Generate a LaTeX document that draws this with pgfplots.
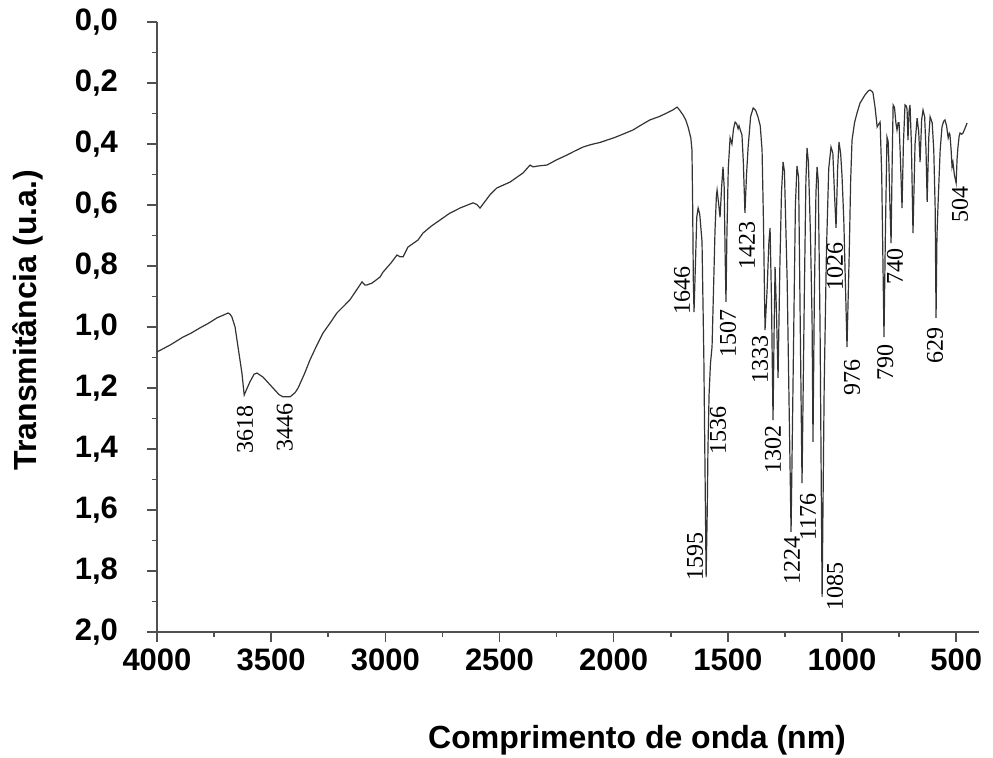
\documentclass[border=0pt]{standalone}
\usepackage{pgfplots}
\pgfplotsset{compat=1.18}
\usepackage{fontspec}
\setmainfont{Liberation Sans}
\newfontfamily\serifpeak{Liberation Serif}
\definecolor{spec}{HTML}{333333}
\definecolor{axc}{HTML}{505050}
\begin{document}
\begin{tikzpicture}
\useasboundingbox (-78.5pt,-63pt) rectangle (418pt,316pt);
\begin{axis}[
  at={(0,0)}, anchor=south west,
  scale only axis, width=411pt, height=305pt,
  xmin=400, xmax=4000, x dir=reverse,
  ymin=0, ymax=2, y dir=reverse,
  axis x line=bottom, axis y line=left,
  axis line style={-, draw=axc, line width=0.8pt},
  every tick/.style={draw=axc, line width=0.8pt},
  tick align=outside,
  major tick length=5pt, minor tick length=2.5pt,
  xtick={500,1000,...,4000}, minor x tick num=1,
  ytick={0,0.2,...,2.01}, minor y tick num=1,
  /pgf/number format/assume math mode=true,
  xticklabel style={font=\bfseries\fontsize{15.5}{16}\selectfont, /pgf/number format/set thousands separator={}},
  yticklabel style={xshift=-11pt, font=\bfseries\fontsize{15.5}{16}\selectfont, /pgf/number format/.cd, use comma, fixed, fixed zerofill, precision=1},
  xlabel={Comprimento de onda (nm)},
  ylabel={Transmitância (u.a.)},
  label style={font=\bfseries\fontsize{16}{18}\selectfont},
  xlabel style={at={(axis description cs:0.584,-0.177)}, anchor=center},
  ylabel style={at={(axis description cs:-0.157,0.511)}, anchor=center, rotate=0},
  clip=false,
]
\addplot[spec, line width=0.6pt] coordinates {
(4000,1.082) (3940,1.058) (3886,1.033) (3850,1.020) (3812,1.003) (3775,0.988) (3737,0.970) (3700,0.958) (3689,0.954) (3680,0.958) (3672,0.967) (3658,1.000)
(3645,1.066) (3628,1.151) (3618,1.223) (3605,1.200) (3593,1.180) (3575,1.155) (3562,1.151) (3536,1.164)
(3492,1.200) (3465,1.222) (3448,1.229) (3417,1.229) (3395,1.215) (3382,1.200) (3355,1.155) (3330,1.108) (3300,1.060)
(3273,1.020) (3240,0.985) (3212,0.954) (3180,0.930) (3155,0.911) (3102,0.852) (3090,0.862) (3080,0.862) (3058,0.856)
(3023,0.836) (3010,0.820) (2975,0.790) (2949,0.764) (2935,0.770) (2922,0.770) (2901,0.738) (2857,0.715) (2835,0.692)
(2800,0.670) (2760,0.649) (2720,0.628) (2673,0.610) (2616,0.593) (2600,0.598) (2585,0.610) (2572,0.597) (2540,0.565) (2511,0.544)
(2454,0.525) (2397,0.495) (2366,0.469) (2353,0.475) (2330,0.472) (2292,0.469) (2250,0.452) (2204,0.436) (2170,0.423) (2134,0.410)
(2100,0.402) (2060,0.395) (2000,0.380) (1960,0.368) (1915,0.354) (1880,0.338) (1841,0.321) (1800,0.310) (1766,0.298)
(1740,0.288) (1722,0.279) (1710,0.290) (1696,0.305) (1685,0.320) (1674,0.344) (1662,0.380) (1657,0.420)
(1654,0.600) (1651,0.850) (1648,0.951) (1642,0.800) (1636,0.640) (1630,0.610) (1623,0.630) (1613,0.720) (1605,1.100)
(1598,1.600) (1595,1.820) (1590,1.600) (1587,1.400) (1582,1.220) (1576,1.120) (1569,1.064) (1562,0.860) (1556,0.682)
(1550,0.570) (1547,0.551) (1541,0.590) (1534,0.640) (1527,0.540) (1521,0.475) (1516,0.540) (1512,0.750) (1508,0.918)
(1504,0.700) (1498,0.480) (1490,0.380) (1482,0.400) (1475,0.350) (1468,0.328) (1461,0.334) (1455,0.350) (1451,0.340)
(1445,0.355) (1438,0.370) (1432,0.460) (1425,0.626) (1418,0.500) (1411,0.410) (1400,0.310) (1389,0.282) (1378,0.290)
(1368,0.311) (1358,0.340) (1350,0.420) (1344,0.650) (1337,1.010) (1328,0.879) (1320,0.720) (1315,0.675) (1309,0.900)
(1302,1.305) (1297,1.000) (1293,0.803) (1287,0.950) (1280,1.167) (1272,0.800) (1265,0.560) (1258,0.459) (1252,0.490)
(1240,0.850) (1223,1.672) (1212,1.050) (1204,0.600) (1197,0.472) (1190,0.510) (1175,1.512) (1165,0.900) (1158,0.520)
(1153,0.413) (1147,0.460) (1138,0.700) (1131,0.977) (1127,1.377) (1121,0.900) (1114,0.560) (1109,0.475) (1104,0.520)
(1096,1.000) (1087,1.885) (1078,1.200) (1068,0.750) (1058,0.480) (1048,0.410) (1040,0.430) (1033,0.560) (1026,0.675)
(1019,0.480) (1013,0.393) (1006,0.430) (1000,0.502) (992,0.650) (978,1.066) (968,0.750) (962,0.520) (956,0.387)
(945,0.330) (934,0.298) (921,0.266) (900,0.240) (885,0.226) (877,0.223) (868,0.228) (864,0.233) (855,0.280)
(846,0.344) (839,0.335) (833,0.328) (826,0.500) (816,1.033) (810,0.700) (803,0.377) (798,0.390) (795,0.450)
(790,0.600) (785,0.725) (780,0.450) (776,0.272) (770,0.280) (764,0.330) (759,0.354) (754,0.330) (750,0.330)
(744,0.450) (737,0.610) (731,0.400) (724,0.272) (719,0.275) (715,0.285) (711,0.387) (706,0.290) (702,0.272)
(696,0.400) (689,0.692) (680,0.400) (671,0.315) (664,0.360) (658,0.459) (651,0.320) (645,0.289) (638,0.310)
(632,0.420) (627,0.590) (620,0.380) (614,0.311) (605,0.330) (598,0.420) (592,0.607) (588,0.970) (584,0.700)
(579,0.593) (570,0.420) (562,0.344) (555,0.326) (549,0.321) (542,0.340) (535,0.380) (530,0.365) (527,0.370)
(522,0.420) (518,0.475) (514,0.460) (508,0.500) (500,0.528) (496,0.450) (492,0.410) (487,0.375) (483,0.364)
(476,0.368) (470,0.364) (462,0.350) (452,0.331)
};
\begin{scope}[every node/.style={rotate=90, anchor=center, inner sep=0pt, font=\serifpeak\fontsize{12}{12}\selectfont}]
\node at (axis cs:3615,1.335) {3618};
\node at (axis cs:3440,1.330) {3446};
\node at (axis cs:1700,0.879) {1646};
\node at (axis cs:1644,1.754) {1595};
\node at (axis cs:1543,1.338) {1536};
\node at (axis cs:1499,1.020) {1507};
\node at (axis cs:1416,0.734) {1423};
\node at (axis cs:1359,1.108) {1333};
\node at (axis cs:1302,1.403) {1302};
\node at (axis cs:1219,1.764) {1224};
\node at (axis cs:1149,1.623) {1176};
\node at (axis cs:1030,1.852) {1085};
\node at (axis cs:1030,0.803) {1026};
\node at (axis cs:956,1.164) {976};
\node at (axis cs:811,1.115) {790};
\node at (axis cs:768,0.803) {740};
\node at (axis cs:592,1.062) {629};
\node at (axis cs:483,0.600) {504};
\end{scope}
\end{axis}
\end{tikzpicture}
\end{document}
